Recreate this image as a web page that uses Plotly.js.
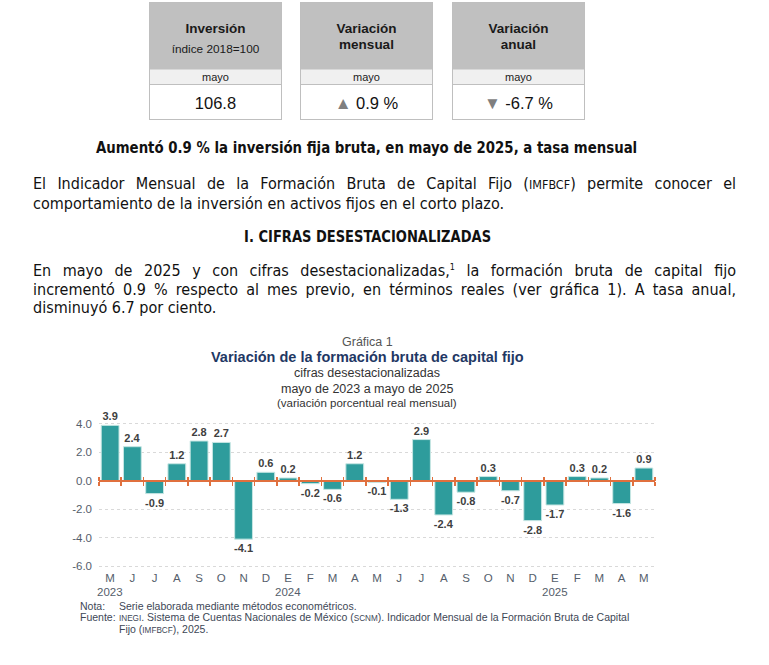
<!DOCTYPE html>
<html><head><meta charset="utf-8">
<script src="https://cdn.plot.ly/plotly-3.0.1.min.js"></script>
<style>
html,body{margin:0;padding:0;background:#fff;width:769px;height:665px;overflow:hidden;position:relative;font-family:"Liberation Sans",Arial,sans-serif;}
.box{position:absolute;top:2px;width:133px;height:118px;border:1px solid #bfbfbf;box-sizing:border-box;}
.hd{position:absolute;left:0;top:0;width:100%;height:66px;background:#c0c0c0;text-align:center;color:#1a1a1a;}
.my{position:absolute;left:0;top:66px;width:100%;height:14px;background:#f0f0f0;border-top:1px solid #d8d8d8;border-bottom:1px solid #bfbfbf;text-align:center;font-size:11px;line-height:14px;color:#222;}
.vl{position:absolute;left:0;top:81px;width:100%;height:36px;text-align:center;font-size:16.5px;line-height:38px;color:#111;}
.tri{color:#7f7f7f;font-size:17px;}
.nar{font-family:"Liberation Sans Narrow","Arial Narrow","DejaVu Sans Condensed",sans-serif;}
.t{position:absolute;color:#111;}
.just{text-align:justify;text-align-last:justify;}
.sc{font-size:0.78em;}
.note{position:absolute;left:80px;font-size:10.5px;color:#3d4756;line-height:11.5px;height:11.5px;}
</style></head>
<body>
<div class="box" style="left:149px"><div class="hd"><div style="position:absolute;top:18px;width:100%;font-weight:bold;font-size:13.5px">Inversión</div><div style="position:absolute;top:39px;width:100%;font-size:11.8px">índice 2018=100</div></div><div class="my">mayo</div><div class="vl">106.8</div></div>
<div class="box" style="left:300px"><div class="hd"><div style="position:absolute;top:18px;width:100%;font-weight:bold;font-size:13.5px;line-height:16px">Variación<br>mensual</div></div><div class="my">mayo</div><div class="vl"><span class="tri">▲</span> 0.9 %</div></div>
<div class="box" style="left:452px"><div class="hd"><div style="position:absolute;top:18px;width:100%;font-weight:bold;font-size:13.5px;line-height:16px">Variación<br>anual</div></div><div class="my">mayo</div><div class="vl"><span class="tri">▼</span> -6.7 %</div></div>

<div class="t nar" style="left:0;width:733px;top:138px;text-align:center;font-weight:bold;font-size:16px;"><span style="display:inline-block;transform:scaleX(0.925)">Aumentó 0.9 % la inversión fija bruta, en mayo de 2025, a tasa mensual</span></div>
<div class="t nar" style="left:33px;width:703px;top:174px;font-size:16px;line-height:19px;">
<div class="just">El Indicador Mensual de la Formación Bruta de Capital Fijo (<span class="sc">IMFBCF</span>) permite conocer el</div>
<div>comportamiento de la inversión en activos fijos en el corto plazo.</div></div>
<div class="t nar" style="left:0;width:735px;top:228px;text-align:center;font-weight:bold;font-size:15px;"><span style="display:inline-block;transform:scaleX(0.968)">I. CIFRAS DESESTACIONALIZADAS</span></div>
<div class="t nar" style="left:33px;width:703px;top:262px;font-size:16px;line-height:18.5px;">
<div class="just">En mayo de 2025 y con cifras desestacionalizadas,<sup style="font-size:9px;line-height:0">1</sup> la formación bruta de capital fijo</div>
<div class="just">incrementó 0.9 % respecto al mes previo, en términos reales (ver gráfica 1). A tasa anual,</div>
<div>disminuyó 6.7 por ciento.</div></div>

<div id="chart" style="position:absolute;left:0;top:330px;width:769px;height:335px;"></div>

<div class="note" style="top:600.5px"><span style="display:inline-block;width:39px">Nota:</span>Serie elaborada mediante métodos econométricos.</div>
<div class="note" style="top:612px"><span style="display:inline-block;width:39px">Fuente:</span><span class="sc">INEGI</span>. Sistema de Cuentas Nacionales de México (<span class="sc">SCNM</span>). Indicador Mensual de la Formación Bruta de Capital</div>
<div class="note" style="top:624px;left:119px">Fijo (<span class="sc">IMFBCF</span>), 2025.</div>

<script>
const months = ["M","J","J","A","S","O","N","D","E","F","M","A","M","J","J","A","S","O","N","D","E","F","M","A","M"];
const years  = ["2023","","","","","","","","2024","","","","","","","","","","","","2025","","","",""];
const values = [3.9,2.4,-0.9,1.2,2.8,2.7,-4.1,0.6,0.2,-0.2,-0.6,1.2,-0.1,-1.3,2.9,-2.4,-0.8,0.3,-0.7,-2.8,-1.7,0.3,0.2,-1.6,0.9];
const yTicks = [-6,-4,-2,0,2,4];

const idx = values.map((_, i) => i);
const bounds = values.map((_, i) => i - 0.5).concat([values.length - 0.5]);
const yRange = [-6.2, 4.98];
const zeroPos = (0 - yRange[0]) / (yRange[1] - yRange[0]);
const xRange = [-0.5, values.length - 0.5];
const FONT = '"Liberation Sans", Arial, sans-serif';
const orange = '#e0703e';
const tickGray = '#555e6b';

const trace = {
  type: 'bar', x: idx, y: values,
  text: values.map(v => v.toFixed(1)),
  textposition: 'outside', cliponaxis: false, constraintext: 'none',
  textfont: {family: FONT, size: 11, color: '#404040', weight: 'bold'},
  marker: {color: '#2e9c9c', line: {color: '#c6e6e3', width: 1}},
  width: 0.8, hoverinfo: 'skip'
};
const dummy2 = {type:'scatter', x:[xRange[0], xRange[1]], y:[0,0], xaxis:'x2', mode:'none', hoverinfo:'skip', showlegend:false};
const dummy3 = {type:'scatter', x:[xRange[0], xRange[1]], y:[0,0], xaxis:'x3', mode:'none', hoverinfo:'skip', showlegend:false};

const pY = py => (569.5 - py) / 159.5;
const cx = (367 - 99) / 556;
const ann = (txt, py, size, color, bold) => ({
  text: txt, xref: 'paper', yref: 'paper', x: cx, y: pY(py), xanchor: 'center', yanchor: 'middle',
  showarrow: false, font: {family: FONT, size: size, color: color, weight: bold ? 'bold' : 'normal'}
});
const yearAnns = [];
years.forEach((yr, i) => {
  if (yr) yearAnns.push({text: yr, xref: 'x', yref: 'paper', x: i, y: pY(592.5), xanchor: 'center', yanchor: 'middle',
    showarrow: false, borderpad: 0, font: {family: FONT, size: 11.5, color: tickGray}});
});

const layout = {
  width: 769, height: 335,
  margin: {l: 99, r: 114, t: 80, b: 95.5},
  paper_bgcolor: 'rgba(0,0,0,0)', plot_bgcolor: 'rgba(0,0,0,0)',
  showlegend: false, bargap: 0.2,
  font: {family: FONT},
  xaxis: {range: xRange, tickmode: 'array', tickvals: idx, ticktext: months,
    showgrid: false, zeroline: false, showline: false, ticks: '',
    tickfont: {family: FONT, size: 11.5, color: tickGray}, fixedrange: true},
  xaxis2: {overlaying: 'x', anchor: 'free', position: zeroPos, side: 'bottom', range: xRange,
    tickmode: 'array', tickvals: bounds, showticklabels: false, ticks: 'outside', ticklen: 4, tickwidth: 1.5,
    tickcolor: orange, showline: true, linecolor: orange, linewidth: 2, showgrid: false, zeroline: false},
  xaxis3: {overlaying: 'x', anchor: 'free', position: zeroPos, side: 'top', range: xRange,
    tickmode: 'array', tickvals: bounds, showticklabels: false, ticks: 'outside', ticklen: 4, tickwidth: 1.5,
    tickcolor: orange, showline: false, showgrid: false, zeroline: false},
  yaxis: {range: yRange, tickmode: 'array', tickvals: yTicks, ticktext: yTicks.map(v => v.toFixed(1)),
    showgrid: true, gridcolor: '#d9d9d9', griddash: 'dot', gridwidth: 1, zeroline: false, showline: false,
    tickfont: {family: FONT, size: 11.5, color: tickGray}, ticks: '', ticklabelstandoff: 6},
  annotations: [
    ann('Gráfica 1', 342, 12.5, '#555555', false),
    ann('Variación de la formación bruta de capital fijo', 356.5, 14.5, '#1f3864', true),
    ann('cifras desestacionalizadas', 373, 12.5, '#333333', false),
    ann('mayo de 2023 a mayo de 2025', 389, 12.5, '#333333', false),
    ann('(variación porcentual real mensual)', 403, 11.5, '#333333', false)
  ].concat(yearAnns)
};
Plotly.newPlot('chart', [trace, dummy2, dummy3], layout, {staticPlot: true, displayModeBar: false});
</script>
</body></html>
